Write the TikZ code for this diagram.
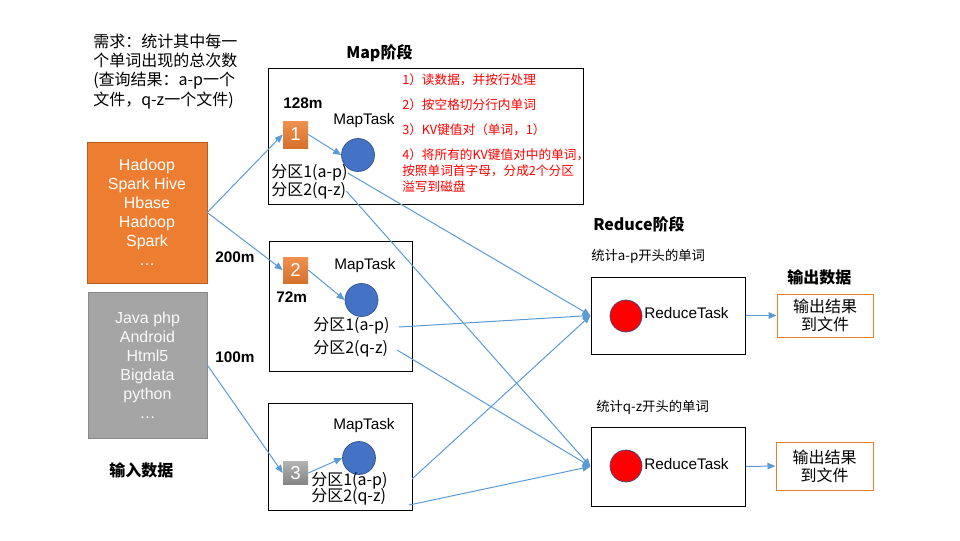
\documentclass[tikz,border=0pt]{standalone}
\usepackage{fontspec}
\setmainfont{Liberation Sans}
\newfontfamily\cjk{Noto Sans CJK SC}
\usetikzlibrary{arrows.meta}
\definecolor{orng}{HTML}{ED7D31}
\definecolor{orngdark}{HTML}{B65E22}
\definecolor{gry}{HTML}{A5A5A5}
\definecolor{grydark}{HTML}{8A8A8A}
\definecolor{arrowblue}{HTML}{5B9BD5}
\definecolor{circblue}{HTML}{4472C4}
\definecolor{circedge}{HTML}{2F528F}
\begin{document}
\begin{tikzpicture}[x=0.75pt,y=-0.75pt,
  txt/.style={inner sep=0pt, anchor=west, font=\fontsize{11.5}{14}\selectfont},
  ctxt/.style={inner sep=0pt, anchor=west, font=\cjk\fontsize{12}{14.3}\selectfont},
  btxt/.style={inner sep=0pt, anchor=west, font=\bfseries\fontsize{11.5}{14}\selectfont},
  bctxt/.style={inner sep=0pt, anchor=west, font=\cjk\bfseries\fontsize{12}{14}\selectfont},
  rtxt/.style={inner sep=0pt, anchor=west, text=red, align=left, font=\cjk\fontsize{9.5}{12}\selectfont},
  frame/.style={draw=black, line width=0.75pt, inner sep=0pt},
  outbox/.style={draw=orng, line width=0.75pt, inner sep=0pt, align=center, font=\cjk\fontsize{12}{13.5}\selectfont},
  sqbox/.style={inner sep=0pt, text=white, font=\fontsize{14}{15}\selectfont, minimum width=18.75pt},
  mapcirc/.style={circle, fill=circblue, draw=circedge, line width=0.5pt, minimum size=24.75pt, inner sep=0pt},
  redcirc/.style={circle, fill=red, draw=circedge, line width=0.5pt, minimum size=24pt, inner sep=0pt},
  arr/.style={draw=arrowblue, line width=0.75pt, -{Triangle[length=6pt,width=5pt]}}
]
\useasboundingbox (0,0) rectangle (960,540);

% top-left description
\node[ctxt, align=left] (desc) at (93,71.5) {需求：统计其中每一\\个单词出现的总次数\\(查询结果：a-p一个\\文件，q-z一个文件)};

% input boxes
\node[draw=orngdark, fill=orng, minimum width=90pt, minimum height=105.75pt, inner sep=0pt, text=white, align=center, font=\fontsize{12}{14.25}\selectfont] (in1) at (147,212.5) {Hadoop\\Spark Hive\\Hbase\\Hadoop\\Spark\\…};
\node[draw=grydark, fill=gry, minimum width=89.25pt, minimum height=109.5pt, inner sep=0pt, text=white!95!gray, align=center, font=\fontsize{12}{14.25}\selectfont] (in2) at (147.5,365) {Java php\\Android\\Html5\\Bigdata\\python\\…};
\node[bctxt] (inlab) at (109,470) {输入数据};

% sizes
\node[btxt] (s200) at (215,257) {200m};
\node[btxt] (s100) at (215,357) {100m};

% Map stage
\node[bctxt] (maplab) at (346,53) {Map阶段};
\node[frame, minimum width=236.25pt, minimum height=102pt] (b1) at (425.5,136) {};
\node[frame, minimum width=107.25pt, minimum height=97.5pt] (b2) at (340.5,306) {};
\node[frame, minimum width=108pt, minimum height=80.25pt] (b3) at (340,456.5) {};

\node[rtxt] (st1) at (402,80) {1）读数据，并按行处理};
\node[rtxt] (st2) at (402,105) {2）按空格切分行内单词};
\node[rtxt] (st3) at (402,130) {3）KV键值对（单词，1）};
\node[rtxt] (st4) at (402,171) {4）将所有的KV键值对中的单词，\\按照单词首字母，分成2个分区\\溢写到磁盘};

\node[btxt] (s128) at (283,103) {128m};
\node[btxt] (s72) at (276,297) {72m};

\node[sqbox, top color=orng!85!white, bottom color=orng!90!black, minimum height=20.25pt] (sq1) at (295.5,134.5) {1};
\node[sqbox, top color=orng!85!white, bottom color=orng!90!black, minimum height=19.5pt] (sq2) at (295.5,270) {2};
\node[sqbox, top color=gry!85!white, bottom color=gry!80!black, minimum height=17.25pt] (sq3) at (295.5,473) {3};

\node[txt] (mt1) at (333,121) {MapTask};
\node[txt] (mt2) at (334,266) {MapTask};
\node[txt] (mt3) at (333,426) {MapTask};

\node[mapcirc] (c1) at (358,155) {};
\node[mapcirc] (c2) at (361.5,300) {};
\node[mapcirc] (c3) at (359,458) {};

\node[ctxt] (p11) at (271,173) {分区1(a-p)};
\node[ctxt] (p12) at (271,191) {分区2(q-z)};
\node[ctxt] (p21) at (313,326) {分区1(a-p)};
\node[ctxt] (p22) at (313,349) {分区2(q-z)};
\node[ctxt] (p31) at (311,481) {分区1(a-p)};
\node[ctxt] (p32) at (311,497) {分区2(q-z)};

% Reduce stage
\node[bctxt] (redlab) at (593,224) {Reduce阶段};
\node[inner sep=0pt, anchor=west, font=\cjk\fontsize{10}{12}\selectfont] (rl1) at (591,256) {统计a-p开头的单词};
\node[inner sep=0pt, anchor=west, font=\cjk\fontsize{10}{12}\selectfont] (rl2) at (596,407) {统计q-z开头的单词};
\node[frame, minimum width=115.5pt, minimum height=57.75pt] (r1) at (668,315.5) {};
\node[frame, minimum width=115.5pt, minimum height=59.25pt] (r2) at (668,466.5) {};
\node[redcirc] (rc1) at (626,316) {};
\node[redcirc] (rc2) at (626,466) {};
\node[txt] (rt1) at (644,313) {ReduceTask};
\node[txt] (rt2) at (644,464) {ReduceTask};

% output
\node[bctxt] (outlab) at (787,277) {输出数据};
\node[outbox, minimum width=72pt, minimum height=32.25pt] (o1) at (825,315.5) {输出结果\\到文件};
\node[outbox, minimum width=72.75pt, minimum height=36pt] (o2) at (824.5,466) {输出结果\\到文件};

% connectors
\coordinate (s21) at (399,327);
\coordinate (s22) at (397,350);
\coordinate (s31) at (412,479);
\coordinate (s32) at (409,505);

\draw[arr] (in1.east) -- (sq1.west);
\draw[arr] (in1.east) -- (sq2.west);
\draw[arr] (in2.east) -- (sq3.west);
\draw[arr] (sq1.east) -- (c1.west);
\draw[arr] (sq2.east) -- (c2.west);
\draw[arr] (sq3.east) -- (c3.west);

\draw[arr] (p11.east) -- (r1.west);
\draw[arr] (p12.east) -- (r2.west);
\draw[arr] (s21) -- (r1.west);
\draw[arr] (s22) -- (r2.west);
\draw[arr] (s31) -- (r1.west);
\draw[arr] (s32) -- (r2.west);

\draw[arr] (r1.east) -- (o1.west);
\draw[arr] (r2.east) -- (o2.west);
\end{tikzpicture}
\end{document}
